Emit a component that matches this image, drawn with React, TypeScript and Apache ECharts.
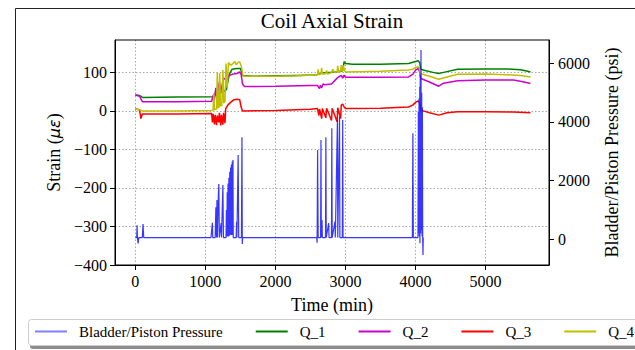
import React, { useEffect, useRef } from "react";
import * as echarts from "echarts";

const SERIF = "'Liberation Serif', 'Times New Roman', serif";

const legendNames = ["Bladder/Piston Pressure", "Q_1", "Q_2", "Q_3", "Q_4"];
const xTicks = [0, 1000, 2000, 3000, 4000, 5000];
const leftTicks = [-400, -300, -200, -100, 0, 100];
const rightTicks = [0, 2000, 4000, 6000];

// [time (min), strain (µε)]
const q1Data: [number, number][] = [
  [0, 41], [60, 40], [100, 35], [600, 36], [1100, 37], [1120, 38], [1150, 45], [1200, 46],
  [1260, 50], [1300, 55], [1340, 95], [1380, 108], [1450, 110], [1500, 110], [1530, 92],
  [1700, 90], [2000, 91], [2300, 92], [2580, 93], [2650, 98], [2700, 99], [2800, 100],
  [2900, 102], [2960, 104], [2980, 128], [3000, 123], [3100, 121], [3500, 121], [3900, 123],
  [3960, 126], [4000, 128], [4040, 130], [4060, 125], [4075, 108], [4150, 104], [4250, 100],
  [4330, 97], [4400, 100], [4600, 108], [5000, 109], [5300, 109], [5500, 107], [5600, 103], [5640, 101],
];

const q2Data: [number, number][] = [
  [0, 41], [60, 38], [100, 24], [600, 24], [1090, 25], [1110, 40], [1120, 25], [1150, 60],
  [1160, 30], [1200, 75], [1220, 50], [1260, 85], [1300, 80], [1340, 92], [1400, 96],
  [1450, 97], [1490, 101], [1510, 95], [1530, 70], [1560, 63], [2000, 64], [2500, 66],
  [2600, 66], [2620, 60], [2630, 58], [2640, 66], [2660, 60], [2680, 70], [2700, 68],
  [2800, 70], [2880, 85], [2900, 88], [2940, 92], [2960, 85], [2980, 93], [3000, 87],
  [3500, 87], [3900, 88], [3960, 95], [4000, 106], [4040, 110], [4060, 100], [4075, 84],
  [4200, 75], [4330, 64], [4400, 72], [4600, 78], [5000, 80], [5400, 80], [5550, 75], [5640, 71],
];

const q3Data: [number, number][] = [
  [0, 5], [60, 3], [80, -20], [100, -8], [600, -8], [1090, -7], [1100, -30], [1110, -8],
  [1130, -35], [1140, -10], [1160, -37], [1170, -12], [1190, -30], [1200, -5], [1220, -38],
  [1230, -10], [1250, -36], [1260, -5], [1280, -32], [1290, 5], [1320, 15], [1360, 22],
  [1400, 28], [1450, 30], [1490, 29], [1510, 10], [1530, 0], [2000, 1], [2500, 4], [2600, 6],
  [2620, -12], [2630, 5], [2660, -20], [2670, 6], [2720, -18], [2730, 7], [2800, -25],
  [2810, 7], [2880, -28], [2890, 8], [2930, -20], [2940, 15], [2960, 18], [2980, 10],
  [3000, 6], [3500, 7], [3900, 10], [3960, 15], [4000, 22], [4040, 26], [4060, 20],
  [4075, 2], [4200, -5], [4330, -11], [4450, -5], [4600, -2], [5000, -2], [5400, -3], [5640, -5],
];

const q4Data: [number, number][] = [
  [0, 5], [60, 3], [100, 0], [600, 0], [1090, 1], [1110, 2], [1120, 45], [1130, 3],
  [1160, 5], [1170, 100], [1180, 8], [1195, 10], [1205, 98], [1215, 12], [1235, 15],
  [1250, 106], [1262, 20], [1280, 25], [1295, 123], [1310, 60], [1330, 126], [1360, 118],
  [1400, 124], [1420, 128], [1440, 120], [1470, 126], [1490, 127], [1510, 118], [1540, 90],
  [1700, 90], [2000, 90], [2300, 91], [2580, 93], [2600, 95], [2610, 108], [2620, 94],
  [2650, 96], [2660, 112], [2670, 95], [2720, 97], [2730, 105], [2740, 96], [2800, 99],
  [2820, 108], [2840, 100], [2880, 102], [2890, 117], [2900, 100], [2930, 104], [2940, 119],
  [2955, 103], [2970, 118], [2985, 105], [3000, 101], [3500, 103], [3900, 106], [3960, 108],
  [4000, 113], [4050, 114], [4069, 97], [4100, 95], [4200, 90], [4330, 82], [4450, 88],
  [4600, 95], [5000, 96], [5300, 94], [5500, 92], [5640, 88],
];

// [time (min), pressure (psi)]
const pressureData: [number, number][] = [
  [0, 60], [20, 60], [25, 480], [30, 60], [40, -140], [50, 60], [100, 60], [110, 520], [120, 60],
  [1080, 60], [1100, 566], [1105, 60], [1140, 60], [1150, 1091], [1160, 60], [1165, 1340],
  [1172, 60], [1185, 1500], [1192, 1885], [1200, 60], [1225, 550], [1230, 60], [1250, 1851],
  [1258, 60], [1295, 60], [1300, 1000], [1306, 100], [1312, 1600], [1318, 100], [1324, 1900],
  [1330, 100], [1336, 2100], [1342, 120], [1348, 2300], [1354, 150], [1360, 2450], [1366, 150],
  [1372, 2550], [1378, 150], [1384, 2650], [1390, 150], [1394, 2704], [1398, 60], [1440, 60],
  [1445, 600], [1450, 60], [1468, 2874], [1476, 60], [1515, 60], [1522, 3478], [1527, -160],
  [1532, 60], [2590, 60], [2595, -115], [2602, 3045], [2610, 60], [2645, 60], [2650, 3386],
  [2655, 60], [2665, 660], [2670, 60], [2715, 60], [2720, 3478], [2725, 60], [2760, 550],
  [2765, 60], [2800, 60], [2805, 3784], [2810, 60], [2850, 600], [2855, 60], [2885, 4067],
  [2890, 60], [2915, 4180], [2920, 60], [2955, 60], [2960, 4070], [2965, 60], [3955, 60],
  [3962, 3614], [3968, 60], [4035, 60], [4040, 4350], [4045, 200], [4050, 4800], [4055, 100],
  [4060, 5200], [4063, -136], [4067, 5600], [4072, 200], [4078, 6454], [4083, 300],
  [4088, 5000], [4093, 100], [4098, 4500], [4102, 60], [4106, -535], [4110, 60],
];

const minus = (v: number) => String(v).replace("-", "\u2212");

export default function App() {
  const ref = useRef<HTMLDivElement>(null);
  useEffect(() => {
    if (!ref.current) return;
    const chart = echarts.init(ref.current, undefined, { renderer: "svg" });
    const axisText = { fontFamily: SERIF, fontSize: 16, color: "#000" };
    const strainSeries = (name: string, data: [number, number][], color: string) => ({
      name,
      type: "line",
      data,
      yAxisIndex: 0,
      showSymbol: false,
      symbol: "none",
      color,
      lineStyle: { color, width: 1.5 },
      itemStyle: { color },
      z: 2,
    });
    chart.setOption({
      animation: false,
      backgroundColor: "#fff",
      title: {
        text: "Coil Axial Strain",
        left: 332,
        top: 10,
        textAlign: "center",
        padding: 0,
        textStyle: { fontFamily: SERIF, fontSize: 21, fontWeight: "normal", color: "#000" },
      },
      graphic: [
        {
          type: "rect",
          z: 0,
          shape: { x: 15.5, y: 8.5, width: 800, height: 500 },
          style: { fill: "#fff", stroke: "#222", lineWidth: 1 },
          silent: true,
        },
        {
          type: "rect",
          z: 1,
          shape: { x: 30, y: 322, width: 700, height: 27, r: 3 },
          style: { fill: "rgba(0,0,0,0.45)" },
          silent: true,
        },
        {
          type: "rect",
          z: 1,
          shape: { x: 28.5, y: 319.5, width: 700, height: 26, r: 3 },
          style: { fill: "#fff", stroke: "#cccccc", lineWidth: 1 },
          silent: true,
        },
      ],
      legend: {
        data: legendNames,
        left: 35,
        top: 324,
        padding: 0,
        itemWidth: 32,
        itemHeight: 2,
        itemGap: 33,
        icon: "rect",
        z: 5,
        textStyle: { fontFamily: SERIF, fontSize: 15, color: "#000", padding: [0, 0, 0, 7] },
      },
      grid: {
        left: 115,
        right: 86,
        top: 40,
        bottom: 85,
        show: true,
        borderColor: "#000",
        borderWidth: 1,
        backgroundColor: "transparent",
        z: 3,
      },
      xAxis: {
        type: "value",
        min: -290,
        max: 5905,
        name: "Time (min)",
        nameLocation: "middle",
        nameGap: 31,
        nameTextStyle: { fontFamily: SERIF, fontSize: 18, color: "#000" },
        axisLine: { show: true, onZero: false, lineStyle: { color: "#000", width: 1 } },
        axisTick: { show: true, inside: false, length: 5, lineStyle: { color: "#000" }, customValues: xTicks },
        axisLabel: { ...axisText, margin: 8, customValues: xTicks, formatter: (v: number) => minus(v) },
        splitLine: { show: true, lineStyle: { color: "#a8a8a8", type: [1.5, 2], width: 1 } },
      },
      yAxis: [
        {
          type: "value",
          position: "left",
          min: -400,
          max: 184,
          interval: 100,
          name: "{a|Strain (}{b|\u03bc\u03b5}{a|)}",
          nameLocation: "middle",
          nameGap: 52,
          nameTextStyle: {
            fontFamily: SERIF,
            fontSize: 18,
            color: "#000",
            rich: {
              a: { fontFamily: SERIF, fontSize: 18, color: "#000" },
              b: { fontFamily: "'DejaVu Sans'", fontStyle: "italic", fontSize: 16, color: "#000" },
            },
          },
          axisLine: { show: true, onZero: false, lineStyle: { color: "#000", width: 1 } },
          axisTick: { show: true, inside: false, length: 5, lineStyle: { color: "#000" }, customValues: leftTicks },
          axisLabel: { ...axisText, margin: 8, customValues: leftTicks, formatter: (v: number) => minus(v) },
          splitLine: { show: true, lineStyle: { color: "#a8a8a8", type: [1.5, 2], width: 1 } },
        },
        {
          type: "value",
          position: "right",
          min: -876,
          max: 6795,
          name: "Bladder/Piston Pressure (psi)",
          nameLocation: "middle",
          nameGap: 54,
          nameTextStyle: { fontFamily: SERIF, fontSize: 18, color: "#000" },
          axisLine: { show: true, onZero: false, lineStyle: { color: "#000", width: 1 } },
          axisTick: { show: true, inside: false, length: 5, lineStyle: { color: "#000" }, customValues: rightTicks },
          axisLabel: { ...axisText, margin: 9, customValues: rightTicks, formatter: (v: number) => minus(v) },
          splitLine: { show: false },
        },
      ],
      series: [
        strainSeries("Q_1", q1Data, "#008000"),
        strainSeries("Q_2", q2Data, "#cc00cc"),
        strainSeries("Q_3", q3Data, "#ff0000"),
        strainSeries("Q_4", q4Data, "#bfbf00"),
        {
          name: "Bladder/Piston Pressure",
          type: "line",
          data: pressureData,
          yAxisIndex: 1,
          showSymbol: false,
          symbol: "none",
          color: "rgba(0,0,255,0.6)",
          lineStyle: { color: "rgba(20,20,255,0.85)", width: 1.2 },
          itemStyle: { color: "rgba(0,0,255,0.5)" },
          z: 3,
        },
      ],
    });
    return () => chart.dispose();
  }, []);
  return (
    <div
      ref={ref}
      style={{ position: "fixed", left: 0, top: 0, width: 635, height: 350, background: "#fff" }}
    />
  );
}
